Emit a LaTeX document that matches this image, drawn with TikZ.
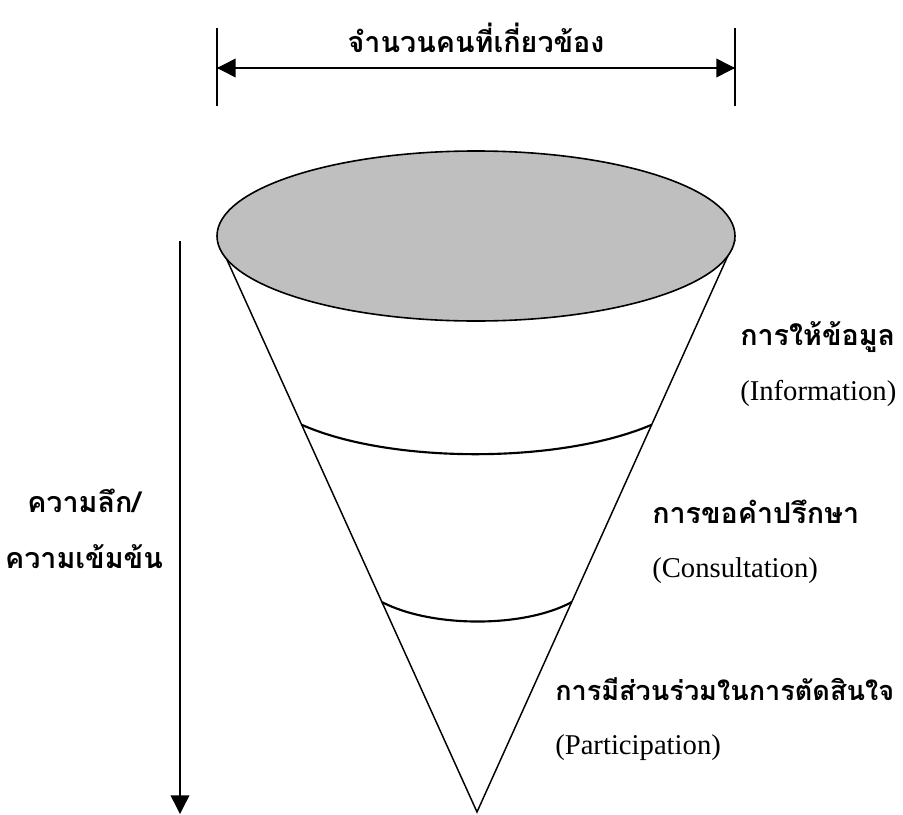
\documentclass[tikz,border=0pt]{standalone}
\usepackage{fontspec}
\setmainfont{Liberation Serif}
\newfontfamily\thaifont[Script=Thai]{Loma}
\usepackage{tikz}
\usetikzlibrary{arrows.meta,calc}

\begin{document}
\begin{tikzpicture}[x=0.75pt,y=-0.75pt,
  thai/.style={font=\thaifont\bfseries\fontsize{#1}{25}\selectfont, inner sep=0pt},
  thai/.default=21.5,
  eng/.style={font=\fontsize{21.5}{25}\selectfont, inner sep=0pt},
  tip/.style={-{Triangle[length=14pt,width=14pt]}},
  band/.style={line width=1.6pt}]
\useasboundingbox (0,0) rectangle (903,814);

\coordinate (tl) at (218,240);
\coordinate (tr) at (735,240);
\coordinate (apex) at (477,812);
\draw[line width=1.1pt] (tl) -- (apex) -- (tr);
\filldraw[fill=gray!50, line width=1.2pt] (476,236) ellipse [x radius=259, y radius=85];

\coordinate (b1l) at ($(tl)!0.323!(apex)$);
\coordinate (b1r) at ($(tr)!0.323!(apex)$);
\coordinate (b2l) at ($(tl)!0.633!(apex)$);
\coordinate (b2r) at ($(tr)!0.633!(apex)$);
\draw[band] (b1l) .. controls (390,464) and (560,464) .. (b1r);
\draw[band] (b2l) .. controls (432,628) and (524,628) .. (b2r);

\coordinate (wl) at (217,68);
\coordinate (wr) at (735,68);
\draw[line width=1.1pt] (217,28) -- (217,106);
\draw[line width=1.1pt] (735,28) -- (735,106);
\draw[tip, line width=1.1pt] (wl) -- (wr);
\draw[tip, line width=1.1pt] (wr) -- (wl);
\node[thai, anchor=base] (width) at (476,52) {จำนวนคนที่เกี่ยวข้อง};

\coordinate (dtop) at (180,241);
\coordinate (dbot) at (180,814);
\draw[tip, line width=1.1pt] (dtop) -- (dbot);
\node[thai, anchor=base] (depth1) at (84,512) {ความลึก/};
\node[thai, anchor=base] (depth2) at (84,568) {ความเข้มข้น};

\node[thai, anchor=base west] (info) at (740,345) {การให้ข้อมูล};
\node[eng, anchor=base west] (infoen) at (740,400) {(Information)};
\node[thai, anchor=base west] (cons) at (652,523) {การขอคำปรึกษา};
\node[eng, anchor=base west] (consen) at (652,577) {(Consultation)};
\node[thai=20.3, anchor=base west] (part) at (555,700) {การมีส่วนร่วมในการตัดสินใจ};
\node[eng, anchor=base west] (parten) at (555,754) {(Participation)};
\end{tikzpicture}
\end{document}
